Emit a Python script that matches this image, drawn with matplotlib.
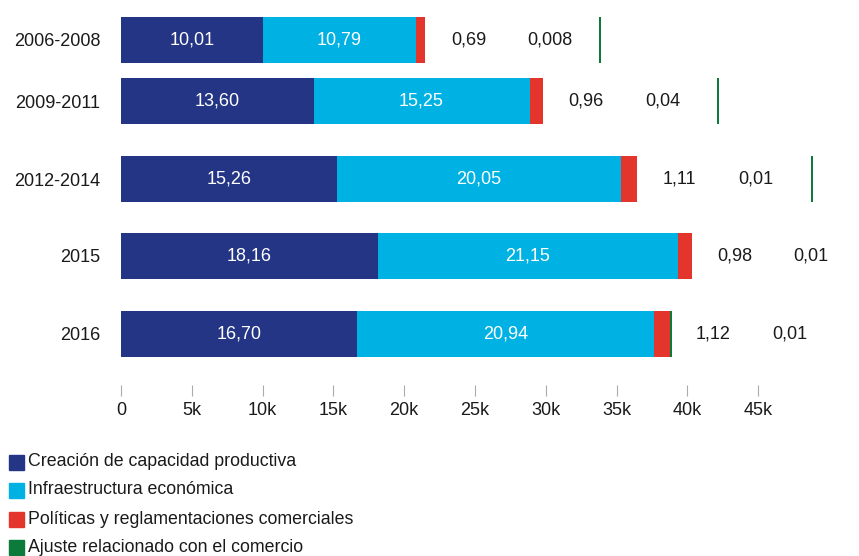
import matplotlib
matplotlib.use("Agg")
import matplotlib.pyplot as plt
from matplotlib.patches import Rectangle
from matplotlib.ticker import FuncFormatter

# data (miles de millones de USD)
periods = ["2006-2008", "2009-2011", "2012-2014", "2015", "2016"]
capacidad = [10.01, 13.60, 15.26, 18.16, 16.70]
infraestructura = [10.79, 15.25, 20.05, 21.15, 20.94]
politicas = [0.69, 0.96, 1.11, 0.98, 1.12]
ajuste = [0.008, 0.04, 0.01, 0.01, 0.01]

series_names = ["Creación de capacidad productiva", "Infraestructura económica",
                "Políticas y reglamentaciones comerciales", "Ajuste relacionado con el comercio"]
colors = ["#253585", "#00b2e3", "#e4352c", "#0b7a3b"]
xticks = [0, 5, 10, 15, 20, 25, 30, 35, 40, 45]

plt.rcParams["font.family"] = ["Liberation Sans", "DejaVu Sans"]
W, H = 859, 556
fig = plt.figure(figsize=(W / 100, H / 100), dpi=100)

# axes in pixel-ish coords: y from 0 (top) to 385 (tick line)
bottom = 385
ax = fig.add_axes([121 / W, 1 - bottom / H, 1 - 121 / W, bottom / H])
ax.set_xlim(0, (W - 121) / 14.16)
ax.set_ylim(bottom, 0)

ypos = [40, 101, 179, 256, 334]
bh = 46


def fmt(v):
    s = f"{v:.3f}" if v < 0.01 else f"{v:.2f}"
    return s.replace(".", ",")


for i, y in enumerate(ypos):
    c, inf, p, a = capacidad[i], infraestructura[i], politicas[i], ajuste[i]
    ax.barh(y, c, height=bh, left=0, color=colors[0])
    ax.barh(y, inf, height=bh, left=c, color=colors[1])
    ax.barh(y, p, height=bh, left=c + inf, color=colors[2])
    end = c + inf + p
    # green segment (drawn detached in the original for the first periods)
    gap = 0.0 if i == len(ypos) - 1 else 12.3
    ax.barh(y, max(a, 0.13), height=bh, left=end + gap, color=colors[3])

    ax.text(c / 2, y, fmt(c), color="white", fontsize=13, ha="center", va="center")
    ax.text(c + inf / 2, y, fmt(inf), color="white", fontsize=13, ha="center", va="center")
    ax.text(end + 1.8, y, fmt(p), color="#1a1a1a", fontsize=13, ha="left", va="center")
    ax.text(end + 7.2, y, fmt(a), color="#1a1a1a", fontsize=13, ha="left", va="center")

for s in ax.spines.values():
    s.set_visible(False)

ax.set_yticks(ypos)
ax.set_yticklabels(periods, fontsize=13, color="#1a1a1a")
ax.tick_params(axis="y", length=0, pad=15)

ax.set_xticks(xticks)
ax.xaxis.set_major_formatter(FuncFormatter(lambda x, _: "0" if x == 0 else f"{int(x)}k"))
ax.tick_params(axis="x", direction="out", length=8, width=0.8, color="#aaaaaa",
               labelsize=13, labelcolor="#1a1a1a", pad=4)

# legend
row_y = [462, 490, 519, 547]
for name, col, ry in zip(series_names, colors, row_y):
    fig.add_artist(Rectangle((9 / W, 1 - (ry + 7.5) / H), 15 / W, 15 / H,
                             transform=fig.transFigure, color=col))
    fig.text(28 / W, 1 - ry / H, name, fontsize=12.8, color="#1a1a1a", va="center", ha="left")

fig.savefig("out.png", dpi=100)
